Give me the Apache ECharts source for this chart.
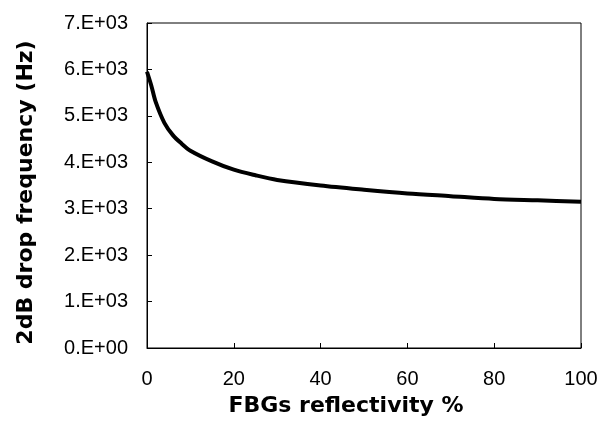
<!DOCTYPE html>
<html>
<head>
<meta charset="utf-8">
<script src="https://cdn.jsdelivr.net/npm/echarts@6/dist/echarts.min.js"></script>
<style>html,body{margin:0;padding:0;background:#fff}#c{width:601px;height:422px}</style>
</head>
<body>
<div id="c"></div>
<script>
const reflectivity = [0, 1, 2, 4, 6, 8, 10, 15, 20, 25, 30, 40, 50, 60, 70, 80, 90, 100];
const dropFreq = [5950, 5650, 5300, 4850, 4580, 4400, 4250, 4020, 3840, 3720, 3620, 3500, 3410, 3330, 3270, 3210, 3180, 3150];
const xTitle = 'FBGs reflectivity %';
const yTitle = '2dB drop frequency (Hz)';

const chart = echarts.init(document.getElementById('c'));
const font = 'Liberation Sans, Arial, sans-serif';
const titleFont = 'DejaVu Sans, sans-serif';
chart.setOption({
  animation: false,
  grid: { left: 147, right: 20, top: 23, bottom: 74, show: true, borderColor: '#000', borderWidth: 1, backgroundColor: 'transparent' },
  xAxis: {
    type: 'value', min: 0, max: 100, interval: 20,
    name: xTitle, nameLocation: 'middle', nameGap: 47,
    nameTextStyle: { fontFamily: titleFont, fontSize: 22, fontWeight: 'bold', color: '#000', padding: [0, 36, 0, 0] },
    axisLine: { show: true, lineStyle: { color: '#000', width: 1 } },
    axisTick: { show: true, inside: true, length: 5, lineStyle: { color: '#000' } },
    axisLabel: { fontFamily: font, fontSize: 20, color: '#000', margin: 21 },
    splitLine: { show: false }
  },
  yAxis: {
    type: 'value', min: 0, max: 7000, interval: 1000,
    name: yTitle, nameLocation: 'middle', nameGap: 110,
    nameTextStyle: { fontFamily: titleFont, fontSize: 22, fontWeight: 'bold', color: '#000', padding: [0, 14, 0, 0] },
    axisLine: { show: true, lineStyle: { color: '#000', width: 1 } },
    axisTick: { show: true, inside: true, length: 5, lineStyle: { color: '#000' } },
    axisLabel: { fontFamily: font, fontSize: 20, color: '#000', margin: 19,
      formatter: v => { const e = v === 0 ? 0 : Math.floor(Math.log10(v)); const m = v / Math.pow(10, e); return m.toFixed(0) + '.E+' + String(e).padStart(2, '0'); } },
    splitLine: { show: false }
  },
  series: [{
    type: 'line', smooth: 0.3, symbol: 'none',
    data: reflectivity.map((x, i) => [x, dropFreq[i]]),
    lineStyle: { color: '#000', width: 4 }
  }]
});
</script>
</body>
</html>
